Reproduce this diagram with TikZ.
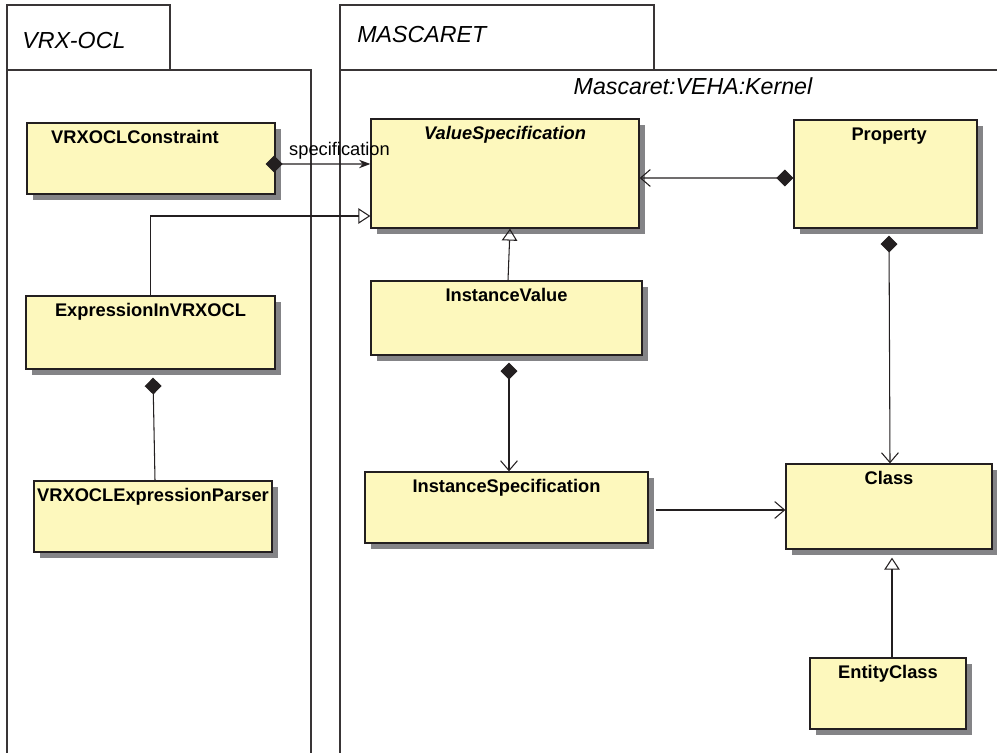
\documentclass[tikz,border=0pt]{standalone}
\usepackage{fontspec}
\setmainfont{Liberation Sans}
\usetikzlibrary{arrows.meta,positioning,calc,shadows}
\definecolor{classfill}{RGB}{253,248,189}
\definecolor{shadowgray}{RGB}{132,132,135}
\definecolor{edge}{RGB}{35,31,32}

\begin{document}
\begin{tikzpicture}[
  x=0.025cm, y=-0.025cm,
  frame/.style={draw=edge!90, line width=0.85pt},
  pkgname/.style={anchor=base west, inner sep=0pt, font=\fontsize{16.5}{19}\selectfont\itshape},
  cls/.style={draw=edge, line width=0.9pt, fill=classfill,
    drop shadow={shadow xshift=4.3pt, shadow yshift=-4.3pt, fill=shadowgray, opacity=1}},
  title/.style={anchor=base, yshift=-0.54cm, inner sep=0pt, font=\fontsize{13}{15}\selectfont\bfseries},
  link/.style={draw=edge, line width=0.75pt},
  compo/.style={link, {Diamond[length=12pt,width=12pt]}-{Straight Barb[length=7pt,width=12pt]}},
  compospec/.style={link, {Diamond[length=12pt,width=12pt]}-{Stealth[length=8pt,width=6pt]}},
  compoend/.style={link, {Diamond[length=12pt,width=12pt]}-},
  nav/.style={link, -{Straight Barb[length=7pt,width=12pt]}},
  gen/.style={link, -{Triangle[open, length=8.5pt, width=11pt]}}
]
  \clip (0,0) rectangle (997,753);

  % Packages
  \draw[frame] (7,5) rectangle (170,70);
  \draw[frame] (7,70) rectangle (311,770);
  \draw[frame] (340,5) rectangle (654,70);
  \draw[frame] (340,70) rectangle (1010,770);
  \node[pkgname] (vrxname) at (22,49) {VRX-OCL};
  \node[pkgname] (mascname) at (357,43) {MASCARET};
  \node[pkgname, anchor=base] (kernel) at (693,95) {Mascaret:VEHA:Kernel};

  % Classes
  \node[cls, minimum width=6.2cm, minimum height=1.775cm,
    label={[title, xshift=-0.4cm]north:VRXOCLConstraint}] (constraint) at (151,158.5) {};
  \node[cls, minimum width=6.225cm, minimum height=1.825cm,
    label={[title]north:ExpressionInVRXOCL}] (expr) at (150.5,332.5) {};
  \node[cls, minimum width=5.95cm, minimum height=1.775cm,
    label={[title]north:VRXOCLExpressionParser}] (parser) at (153,516.5) {};
  \node[cls, minimum width=6.7cm, minimum height=2.725cm,
    label={[title]north:\itshape ValueSpecification}] (valspec) at (505,173.5) {};
  \node[cls, minimum width=4.575cm, minimum height=2.7cm,
    label={[title, xshift=0.09cm]north:Property}] (property) at (885.5,174) {};
  \node[cls, minimum width=6.775cm, minimum height=1.85cm,
    label={[title]north:InstanceValue}] (instval) at (506.5,318) {};
  \node[cls, minimum width=7.075cm, minimum height=1.775cm,
    label={[title]north:InstanceSpecification}] (instspec) at (506.5,507.5) {};
  \node[cls, minimum width=5.15cm, minimum height=2.125cm,
    label={[title]north:Class}] (class) at (889,506.5) {};
  \node[cls, minimum width=3.9cm, minimum height=1.775cm,
    label={[title]north:EntityClass}] (entity) at (888,693.5) {};

  % Connectors
  \draw[compospec] ($(constraint.east)+(-10,5.5)$) --
    node[pos=0, anchor=base west, xshift=0.575cm, yshift=0.2cm, inner sep=0pt,
      font=\fontsize{13}{15}\selectfont] (speclbl) {specification}
    ($(valspec.west)+(0,-9.5)$);
  \draw[gen] (expr.north) |- ($(valspec.west)+(0,42.5)$);
  \draw[gen] ($(instval.north)+(1.5,0)$) -- ($(valspec.south)+(5,0)$);
  \draw[compo] ($(property.west)+(0,4)$) -- ($(valspec.east)+(0,4.5)$);
  \draw[compo] ($(property.south)+(3.5,7)$) -- ($(class.north)+(1,0)$);
  \draw[compo] ($(instval.south)+(2.5,7)$) -- ($(instspec.north)+(2.5,0)$);
  \draw[nav] ($(instspec.east)+(7,2.5)$) -- ($(class.west)+(0,3.5)$);
  \draw[gen] ($(entity.north)+(4,0)$) -- ($(class.south)+(3,8)$);
  \draw[compoend] ($(expr.south)+(2.5,8)$) -- ($(parser.north)+(2,0)$);
\end{tikzpicture}
\end{document}
